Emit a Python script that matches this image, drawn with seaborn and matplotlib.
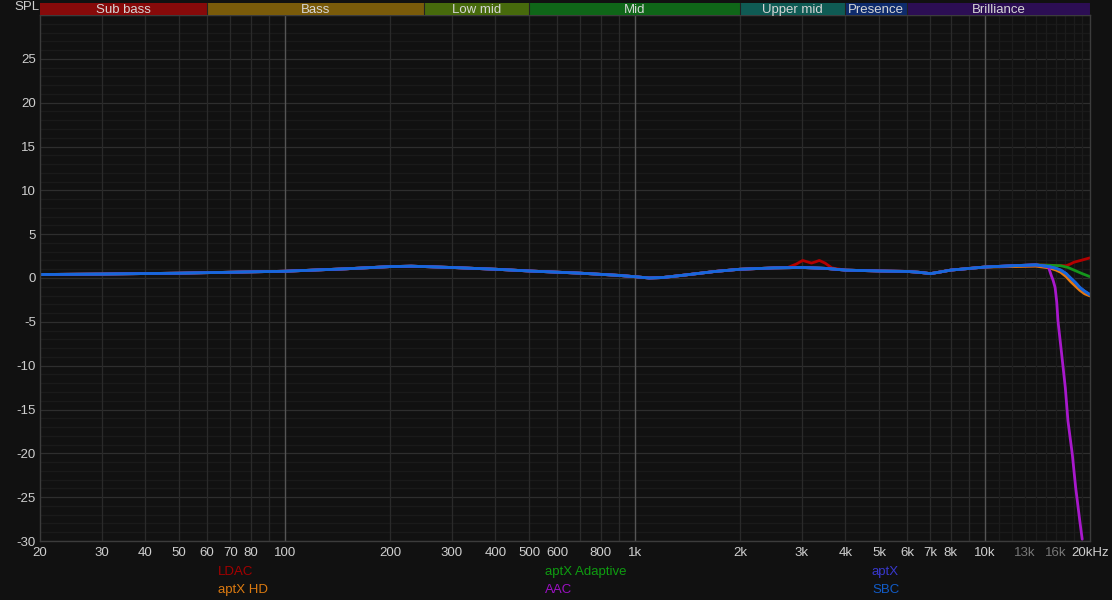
import numpy as np
import pandas as pd
import matplotlib
matplotlib.use('Agg')
import matplotlib.pyplot as plt
import seaborn as sns
from matplotlib.ticker import FixedLocator, NullFormatter

# ------------------------------------------------------------------
# dados (frequencia em Hz, SPL em dB)
# ------------------------------------------------------------------
codecs = ['LDAC', 'aptX HD', 'aptX Adaptive', 'AAC', 'aptX', 'SBC']
cores = ['#b40000', '#e57a12', '#14961c', '#a818cc', '#3c3cd2', '#1668da']

# curva comum a todos os codecs ate ~14 kHz
base_freq = [20, 30, 50, 100, 150, 200, 230, 300, 400, 500, 700, 900, 1000,
             1100, 1200, 1400, 1700, 2000, 2500, 3000, 3500, 4000, 5000,
             6000, 6500, 7000, 7500, 8000, 10000, 12000, 14000]
base_spl = [0.4, 0.45, 0.55, 0.77, 1.05, 1.3, 1.35, 1.2, 1.0, 0.8, 0.55, 0.3,
            0.15, 0.0, 0.05, 0.35, 0.75, 1.0, 1.15, 1.2, 1.1, 0.9, 0.8,
            0.75, 0.65, 0.5, 0.7, 0.9, 1.25, 1.4, 1.5]

# pico do LDAC perto de 3 kHz
ldac_bump_freq = [2740, 2900, 3020, 3110, 3200, 3290, 3370, 3500, 3660]
ldac_bump_spl = [1.2, 1.6, 2.0, 1.85, 1.7, 1.85, 2.0, 1.7, 1.15]

# finais de cada curva acima de 15 kHz
ldac_tail_freq = [15300, 16500, 17100, 17600, 18000, 19000, 20000]
ldac_tail_spl = [1.45, 1.42, 1.4, 1.6, 1.8, 2.05, 2.3]

aptxhd_tail_freq = [15300, 16000, 16500, 17100, 17600, 18200, 18700, 19300, 20000]
aptxhd_tail_spl = [1.15, 0.9, 0.65, 0.15, -0.4, -0.95, -1.4, -1.8, -2.05]

adaptive_tail_freq = [15300, 16500, 17300, 18000, 19000, 20000]
adaptive_tail_spl = [1.45, 1.4, 1.2, 0.9, 0.5, 0.15]

aac_tail_freq = [15200, 15500, 15700, 15900, 16070, 16200, 16600, 17000,
                 17300, 17800, 18200, 18700, 19000]
aac_tail_spl = [1.3, 0.3, -0.3, -1.1, -2.75, -4.9, -8.7, -12.5,
                -16.3, -20.1, -23.9, -27.7, -29.8]

sbc_tail_freq = [15300, 16000, 16500, 17100, 17600, 18200, 18700, 19300, 20000]
sbc_tail_spl = [1.3, 1.1, 0.9, 0.5, 0.0, -0.55, -1.07, -1.5, -1.9]

bandas = ['Sub bass', 'Bass', 'Low mid', 'Mid', 'Upper mid', 'Presence', 'Brilliance']
bandas_lim = [20, 60, 250, 500, 2000, 4000, 6000, 20000]
bandas_cor = ['#870a0a', '#7a5b0a', '#476a0c', '#0f6618', '#0f5b54', '#0e2b6c', '#2c0e54']

x_ticks = [20, 30, 40, 50, 60, 70, 80, 100, 200, 300, 400, 500, 600, 800,
           1000, 2000, 3000, 4000, 5000, 6000, 7000, 8000, 10000, 13000, 16000, 20000]
x_labels = ['20', '30', '40', '50', '60', '70', '80', '100', '200', '300', '400',
            '500', '600', '800', '1k', '2k', '3k', '4k', '5k', '6k', '7k', '8k',
            '10k', '13k', '16k', '20kHz']
y_ticks = [-30, -25, -20, -15, -10, -5, 0, 5, 10, 15, 20, 25]

# ------------------------------------------------------------------
# monta a tabela longa
# ------------------------------------------------------------------
def junta(freq_a, spl_a, freq_b, spl_b):
    pares = [(f, s) for f, s in zip(freq_a, spl_a)
             if not (min(freq_b) <= f <= max(freq_b))]
    pares += list(zip(freq_b, spl_b))
    pares.sort()
    return [p[0] for p in pares], [p[1] for p in pares]

curvas = {}
lf, ls = junta(base_freq, base_spl, ldac_bump_freq, ldac_bump_spl)
curvas['LDAC'] = (lf + ldac_tail_freq, ls + ldac_tail_spl)
curvas['aptX HD'] = (base_freq + aptxhd_tail_freq,
                     base_spl[:-2] + [1.3, 1.35] + aptxhd_tail_spl)
curvas['aptX Adaptive'] = (base_freq + adaptive_tail_freq, base_spl + adaptive_tail_spl)
curvas['AAC'] = (base_freq + aac_tail_freq, base_spl + aac_tail_spl)
curvas['aptX'] = (base_freq + sbc_tail_freq, base_spl + sbc_tail_spl)
curvas['SBC'] = (base_freq + sbc_tail_freq, base_spl + sbc_tail_spl)

linhas = []
for nome in codecs:
    fr, sp = curvas[nome]
    for f, s in zip(fr, sp):
        linhas.append({'freq': f, 'spl': s, 'codec': nome})
df = pd.DataFrame(linhas)

# ------------------------------------------------------------------
# grafico
# ------------------------------------------------------------------
fundo = '#111111'
sns.set_theme(style='dark', rc={'axes.facecolor': fundo, 'figure.facecolor': fundo})
plt.rcParams['font.family'] = ['Liberation Sans', 'DejaVu Sans']
plt.rcParams['axes.unicode_minus'] = False

W, H = 1112, 600
fig = plt.figure(figsize=(W / 100, H / 100), dpi=100)
x0, x1, y_top, y_bot = 40, 1090, 15, 541
ax = fig.add_axes([x0 / W, 1 - y_bot / H, (x1 - x0) / W, (y_bot - y_top) / H])

sns.lineplot(data=df, x='freq', y='spl', hue='codec', hue_order=codecs,
             palette=dict(zip(codecs, cores)), estimator=None, sort=True,
             linewidth=2.0, legend=False, ax=ax)

ax.set_xscale('log')
ax.set_xlim(20, 20000)
ax.set_ylim(-30, 30)
ax.set_xlabel('')
ax.set_ylabel('')

# grade horizontal
for v in range(-30, 31):
    cor = '#2e2e2e' if v % 5 == 0 else '#1a1a1a'
    ax.axhline(v, color=cor, lw=0.9, zorder=0)
# grade vertical
grade_v = list(range(30, 100, 10)) + list(range(200, 1000, 100)) + \
          list(range(2000, 10000, 1000)) + list(range(11000, 20000, 1000))
for f in grade_v:
    cor = '#1c1c1c' if f > 10000 else '#2a2a2a'
    ax.axvline(f, color=cor, lw=0.9, zorder=0)
for f in [100, 1000, 10000]:
    ax.axvline(f, color='#555555', lw=1.0, zorder=0)

ax.xaxis.set_major_locator(FixedLocator(x_ticks))
ax.xaxis.set_minor_formatter(NullFormatter())
ax.xaxis.set_minor_locator(FixedLocator([]))
ax.set_xticklabels(x_labels)
ax.set_yticks(y_ticks)
ax.tick_params(axis='both', length=0, colors='#cfcfcf', labelsize=9.5)
ax.tick_params(axis='x', pad=4)
ax.tick_params(axis='y', pad=3)
for lbl in ax.get_xticklabels():
    if lbl.get_text() in ('13k', '16k'):
        lbl.set_color('#777777')
ax.grid(False)
for s in ax.spines.values():
    s.set_color('#3c3c3c')
    s.set_linewidth(1.0)

# faixa de bandas no topo
axb = fig.add_axes([x0 / W, 1 - 15 / H, (x1 - x0) / W, 12 / H])
axb.set_xscale('log')
axb.set_xlim(20, 20000)
axb.set_ylim(0, 1)
for nome, a, b, c in zip(bandas, bandas_lim[:-1], bandas_lim[1:], bandas_cor):
    axb.axvspan(a, b, color=c, lw=0)
    axb.axvline(b, color='#222222', lw=0.8)
    axb.text(np.sqrt(a * b), 0.45, nome, ha='center', va='center',
             color='#d6d6d6', fontsize=9.5)
axb.set_xticks([])
axb.set_yticks([])
axb.minorticks_off()
for s in axb.spines.values():
    s.set_visible(False)

fig.text(27 / W, 1 - 7 / H, 'SPL', ha='center', va='center', color='#cfcfcf', fontsize=9.5)

# legenda em texto colorido
leg_pos = [(218, 572), (218, 590), (545, 572), (545, 590), (872, 572), (872, 590)]
leg_nomes = ['LDAC', 'aptX HD', 'aptX Adaptive', 'AAC', 'aptX', 'SBC']
leg_cores = ['#a40000', '#dc7a10', '#0e9c10', '#9c10c4', '#3838cc', '#125cc8']
for (px, py), nome, c in zip(leg_pos, leg_nomes, leg_cores):
    fig.text(px / W, 1 - py / H, nome, ha='left', va='center', color=c, fontsize=9.5)

fig.savefig('out.png', dpi=100, facecolor=fundo)
